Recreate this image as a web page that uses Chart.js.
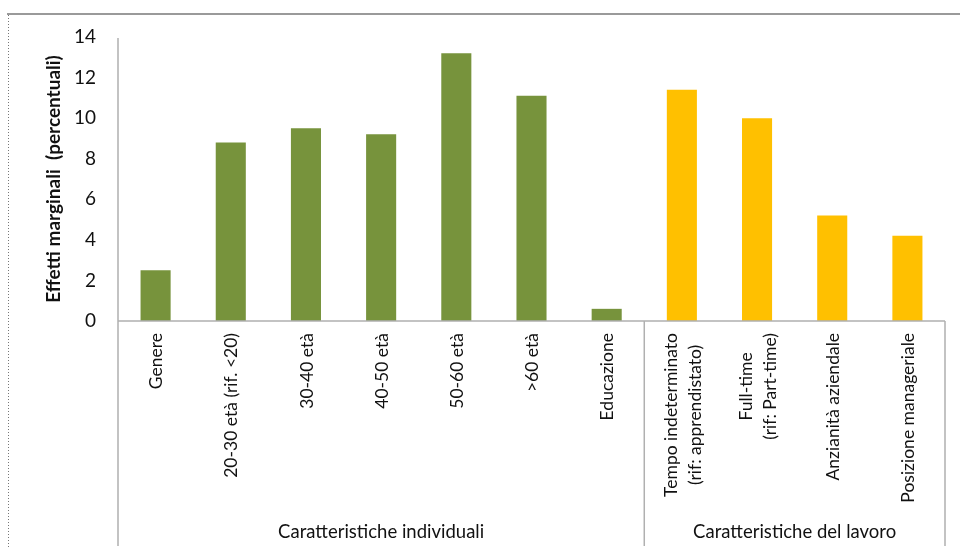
<!DOCTYPE html>
<html>
<head>
<meta charset="utf-8">
<script src="https://cdn.jsdelivr.net/npm/chart.js@4.4.1/dist/chart.umd.min.js"></script>
<style>
  html, body { margin: 0; padding: 0; background: #ffffff; }
  #wrap { width: 960px; height: 549px; position: relative; }
</style>
</head>
<body>
<div id="wrap"><canvas id="c" width="960" height="549"></canvas></div>
<script>
// ---- data ----
const categories = [
  ["Genere"],
  ["20-30 età (rif. <20)"],
  ["30-40 età"],
  ["40-50 età"],
  ["50-60 età"],
  [">60 età"],
  ["Educazione"],
  ["Tempo indeterminato", "(rif: apprendistato)"],
  ["Full-time", "(rif: Part-time)"],
  ["Anzianità aziendale"],
  ["Posizione manageriale"]
];
const values = [2.5, 8.8, 9.5, 9.2, 13.2, 11.1, 0.6, 11.4, 10.0, 5.2, 4.2];
const groupNames = ["Caratteristiche individuali", "Caratteristiche del lavoro"];
const groupSizes = [7, 4];
const yTicks = [0, 2, 4, 6, 8, 10, 12, 14];
const yTitle = "Effetti marginali  (percentuali)";

// ---- styles ----
const groupColors = ["#77933C", "#FFC000"];
const axisColor = "#B0B0B0";
const textColor = "#111111";
const FONT = "Lato, 'Open Sans', sans-serif";

const barColors = [];
groupSizes.forEach((n, gi) => { for (let i = 0; i < n; i++) barColors.push(groupColors[gi]); });

const decorPlugin = {
  id: 'decor',
  afterDraw(chart) {
    const ctx = chart.ctx;
    const xs = chart.scales.x;
    const ca = chart.chartArea;
    const H = chart.height;
    ctx.save();
    // outer frame: top solid, left dotted
    ctx.strokeStyle = "#9a9a9a";
    ctx.lineWidth = 2;
    ctx.beginPath(); ctx.moveTo(7, 14); ctx.lineTo(960, 14); ctx.stroke();
    ctx.lineWidth = 1;
    ctx.setLineDash([1, 2]);
    ctx.strokeStyle = "#777";
    ctx.beginPath(); ctx.moveTo(8.5, 15); ctx.lineTo(8.5, H); ctx.stroke();
    ctx.setLineDash([]);

    // axes lines
    ctx.strokeStyle = axisColor;
    ctx.lineWidth = 1.5;
    const bottomY = 546;
    ctx.beginPath();
    ctx.moveTo(ca.left, ca.top + 1); ctx.lineTo(ca.left, bottomY);
    ctx.moveTo(ca.left, ca.bottom); ctx.lineTo(ca.right, ca.bottom);
    ctx.stroke();
    // group separators
    let idx = 0;
    const step = xs.getPixelForValue(1) - xs.getPixelForValue(0);
    const groupBounds = [];
    groupSizes.forEach((n) => {
      const start = xs.getPixelForValue(idx) - step / 2;
      const end = xs.getPixelForValue(idx + n - 1) + step / 2;
      groupBounds.push([start, end]);
      idx += n;
    });
    ctx.beginPath();
    groupBounds.forEach(([s, e]) => {
      ctx.moveTo(e, ca.bottom); ctx.lineTo(e, bottomY);
    });
    ctx.stroke();

    // category labels (rotated, centered lines)
    ctx.fillStyle = textColor;
    ctx.font = "17.5px " + FONT;
    const lineH = 24;
    categories.forEach((lines, i) => {
      const x = xs.getPixelForValue(i);
      const top = ca.bottom + 12;
      let W = 0;
      lines.forEach(l => { W = Math.max(W, ctx.measureText(l).width); });
      ctx.save();
      ctx.translate(x, top);
      ctx.rotate(-Math.PI / 2);
      ctx.textAlign = "center";
      ctx.textBaseline = "middle";
      lines.forEach((l, li) => {
        ctx.fillText(l, -W / 2, (li - (lines.length - 1) / 2) * lineH + 1);
      });
      ctx.restore();
    });

    // group labels
    ctx.font = "18.5px " + FONT;
    ctx.textAlign = "center";
    ctx.textBaseline = "middle";
    groupNames.forEach((g, gi) => {
      const [s, e] = groupBounds[gi];
      ctx.fillText(g, (s + e) / 2, 532);
    });
    ctx.restore();
  }
};

new Chart(document.getElementById('c'), {
  type: 'bar',
  data: {
    labels: categories,
    datasets: [{
      data: values,
      backgroundColor: barColors,
      borderWidth: 0,
      barPercentage: 0.4,
      categoryPercentage: 1.0
    }]
  },
  options: {
    responsive: false,
    animation: false,
    devicePixelRatio: 1,
    layout: { padding: { left: 42, right: 15, top: 37, bottom: 228 } },
    plugins: { legend: { display: false }, tooltip: { enabled: false } },
    scales: {
      x: { display: false },
      y: {
        min: 0, max: 14,
        afterFit: (s) => { s.width = 76; },
        afterBuildTicks: (s) => { s.ticks = yTicks.map(v => ({ value: v })); },
        grid: { display: false, drawTicks: false },
        border: { display: false },
        ticks: { padding: 22, color: textColor, font: { family: FONT, size: 19 } },
        title: {
          display: true, text: yTitle, color: textColor,
          font: { family: FONT, size: 19, weight: 'bold' }, padding: { top: 0, bottom: 0 }
        }
      }
    }
  },
  plugins: [decorPlugin]
});
</script>
</body>
</html>
